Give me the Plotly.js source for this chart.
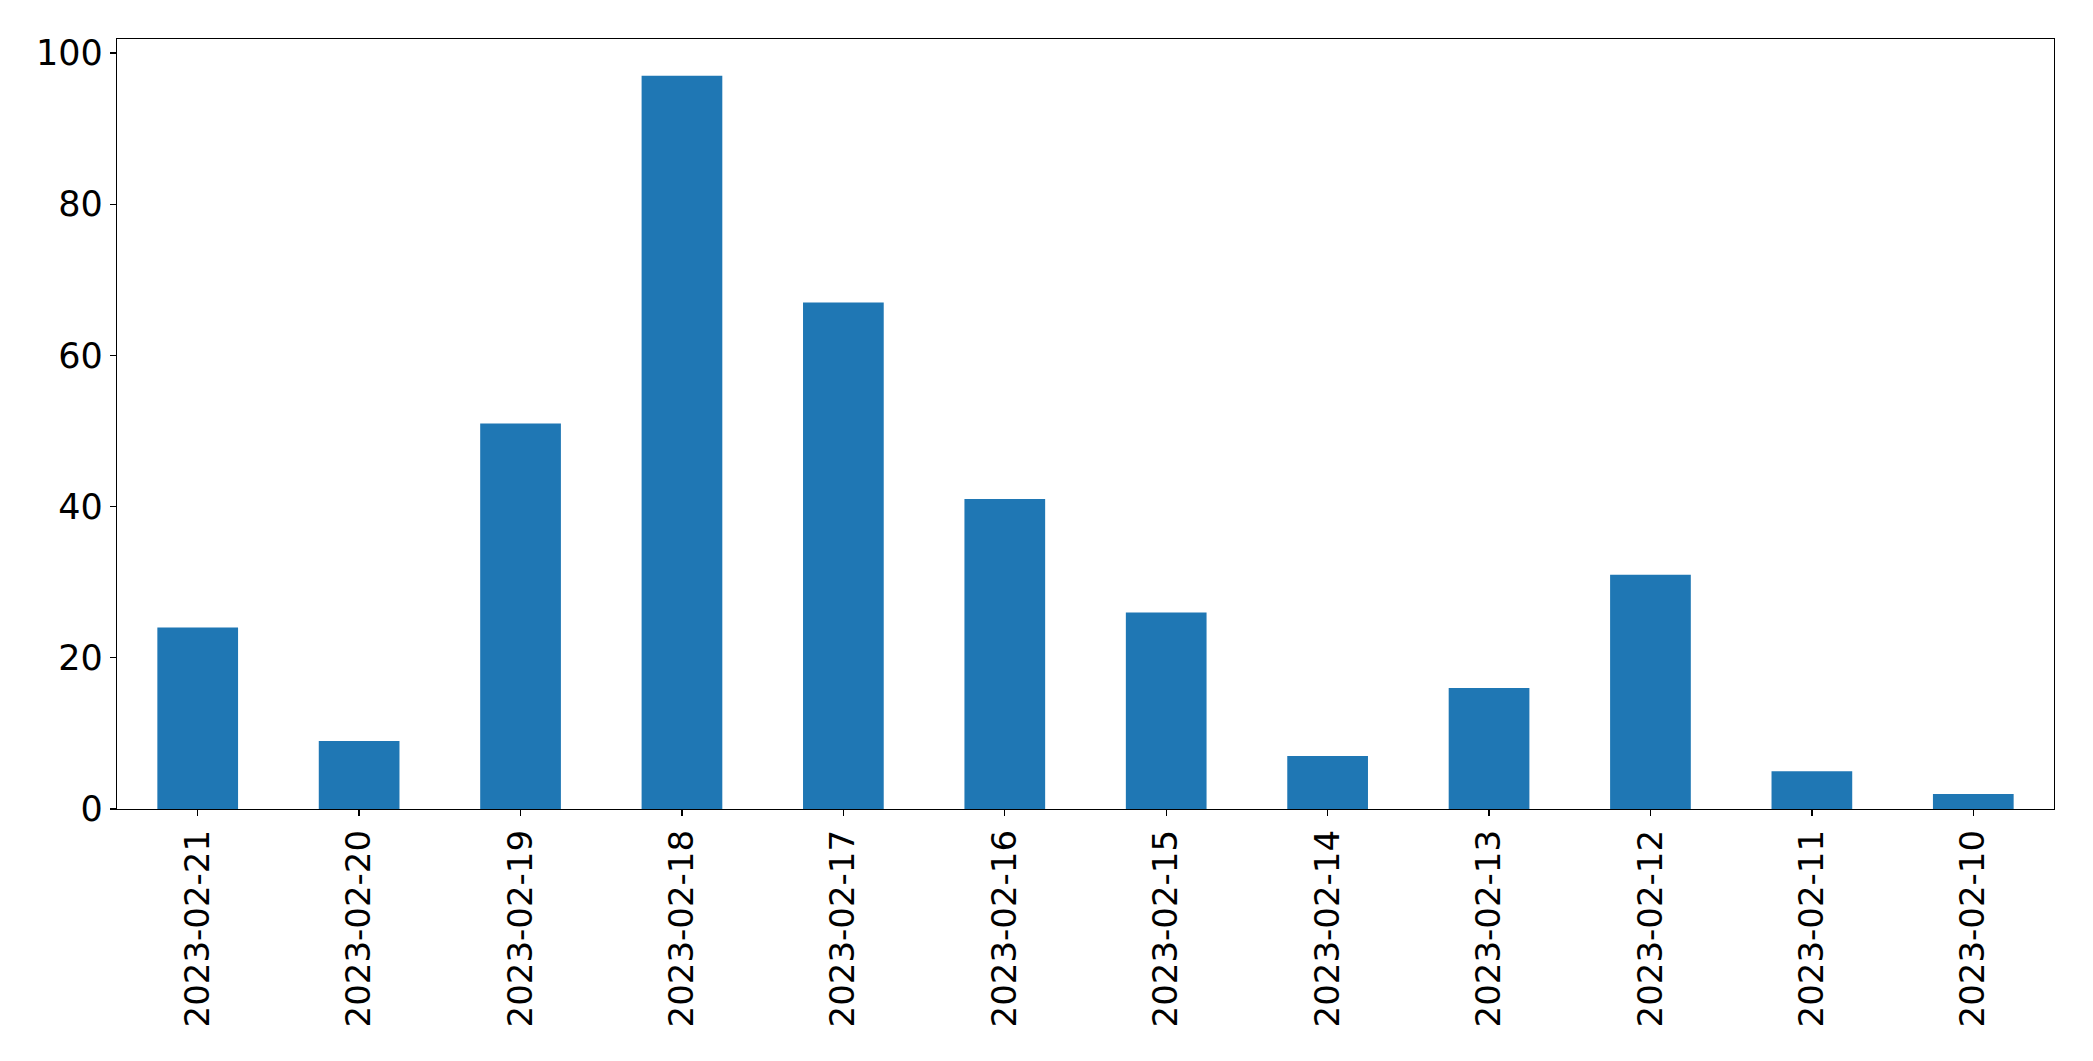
<!DOCTYPE html>
<html>
<head>
<meta charset="utf-8">
<script src="https://cdn.plot.ly/plotly-3.0.1.min.js"></script>
<style>html,body{margin:0;padding:0;background:#fff;}#chart{width:2093px;height:1061px;}</style>
</head>
<body>
<div id="chart"></div>
<script>
const dates = ["2023-02-21","2023-02-20","2023-02-19","2023-02-18","2023-02-17","2023-02-16","2023-02-15","2023-02-14","2023-02-13","2023-02-12","2023-02-11","2023-02-10"];
const counts = [24, 9, 51, 97, 67, 41, 26, 7, 16, 31, 5, 2];
const yTicks = [0, 20, 40, 60, 80, 100];

const trace = {
  type: "bar",
  x: dates,
  y: counts,
  width: 0.5,
  marker: {color: "#1f77b4", line: {width: 0}},
  hoverinfo: "x+y"
};

const layout = {
  width: 2093,
  height: 1061,
  margin: {l: 117, r: 39, t: 39, b: 252, pad: 0},
  paper_bgcolor: "#fff",
  plot_bgcolor: "#fff",
  showlegend: false,
  font: {family: "DejaVu Sans", size: 34, color: "#000"},
  xaxis: {
    type: "category",
    range: [-0.5, 11.5],
    tickangle: -90,
    ticks: "outside",
    ticklen: 6,
    tickwidth: 1.3,
    tickcolor: "#000",
    showline: true,
    linecolor: "#000",
    linewidth: 1.3,
    mirror: true,
    showgrid: false,
    zeroline: false,
    tickfont: {family: "DejaVu Sans", size: 34, color: "#000"},
    automargin: false
  },
  yaxis: {
    range: [0, 101.85],
    tickmode: "array",
    tickvals: yTicks,
    ticktext: yTicks.map(String),
    ticks: "outside",
    ticklen: 6,
    tickwidth: 1.3,
    tickcolor: "#000",
    showline: true,
    linecolor: "#000",
    linewidth: 1.3,
    mirror: true,
    showgrid: false,
    zeroline: false,
    tickfont: {family: "DejaVu Sans", size: 35, color: "#000"},
    automargin: false
  }
};

Plotly.newPlot("chart", [trace], layout, {staticPlot: true, displayModeBar: false});
</script>
</body>
</html>
